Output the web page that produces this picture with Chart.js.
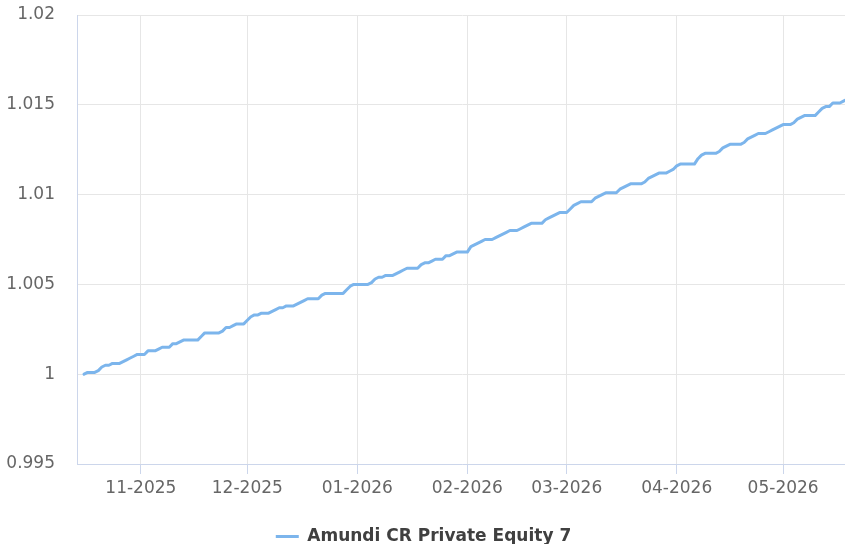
<!DOCTYPE html>
<html>
<head>
<meta charset="utf-8">
<script src="https://cdn.jsdelivr.net/npm/chart.js@4/dist/chart.umd.min.js"></script>
<style>
  html, body { margin: 0; padding: 0; background: #fff; overflow: hidden; }
  #wrap { width: 850px; height: 555px; }
</style>
</head>
<body>
<div id="wrap"><canvas id="navChart" width="850" height="555"></canvas></div>
<script>
// daily NAV, one value per calendar day starting at firstDay
const firstDay = "2025-10-16";
const axisStart = "2025-10-14";
const fundName = "Amundi CR Private Equity 7";

const navValues = [
  1.0000, 1.0001, 1.0001, 1.0001,
  1.0002, 1.0004, 1.0005, 1.0005, 1.0006, 1.0006, 1.0006,
  1.0007, 1.0008, 1.0009, 1.0010, 1.0011, 1.0011, 1.0011,
  1.0013, 1.0013, 1.0013, 1.0014, 1.0015, 1.0015, 1.0015,
  1.0017, 1.0017, 1.0018, 1.0019, 1.0019, 1.0019, 1.0019,
  1.0019, 1.0021, 1.0023, 1.0023, 1.0023, 1.0023, 1.0023,
  1.0024, 1.0026, 1.0026, 1.0027, 1.0028, 1.0028, 1.0028,
  1.0030, 1.0032, 1.0033, 1.0033, 1.0034, 1.0034, 1.0034,
  1.0035, 1.0036, 1.0037, 1.0037, 1.0038, 1.0038, 1.0038,
  1.0039, 1.0040, 1.0041, 1.0042, 1.0042, 1.0042, 1.0042,
  1.0044, 1.0045, 1.0045, 1.0045, 1.0045, 1.0045, 1.0045,
  1.0047, 1.0049, 1.0050, 1.0050, 1.0050, 1.0050, 1.0050,
  1.0051, 1.0053, 1.0054, 1.0054, 1.0055, 1.0055, 1.0055,
  1.0056, 1.0057, 1.0058, 1.0059, 1.0059, 1.0059, 1.0059,
  1.0061, 1.0062, 1.0062, 1.0063, 1.0064, 1.0064, 1.0064,
  1.0066, 1.0066, 1.0067, 1.0068, 1.0068, 1.0068, 1.0068,
  1.0071, 1.0072, 1.0073, 1.0074, 1.0075, 1.0075, 1.0075,
  1.0076, 1.0077, 1.0078, 1.0079, 1.0080, 1.0080, 1.0080,
  1.0081, 1.0082, 1.0083, 1.0084, 1.0084, 1.0084, 1.0084,
  1.0086, 1.0087, 1.0088, 1.0089, 1.0090, 1.0090, 1.0090,
  1.0092, 1.0094, 1.0095, 1.0096, 1.0096, 1.0096, 1.0096,
  1.0098, 1.0099, 1.0100, 1.0101, 1.0101, 1.0101, 1.0101,
  1.0103, 1.0104, 1.0105, 1.0106, 1.0106, 1.0106, 1.0106,
  1.0107, 1.0109, 1.0110, 1.0111, 1.0112, 1.0112, 1.0112,
  1.0113, 1.0114, 1.0116, 1.0117, 1.0117, 1.0117, 1.0117,
  1.0117, 1.0120, 1.0122, 1.0123, 1.0123, 1.0123, 1.0123,
  1.0124, 1.0126, 1.0127, 1.0128, 1.0128, 1.0128, 1.0128,
  1.0129, 1.0131, 1.0132, 1.0133, 1.0134, 1.0134, 1.0134,
  1.0135, 1.0136, 1.0137, 1.0138, 1.0139, 1.0139, 1.0139,
  1.0140, 1.0142, 1.0143, 1.0144, 1.0144, 1.0144, 1.0144,
  1.0146, 1.0148, 1.0149, 1.0149, 1.0151, 1.0151, 1.0151,
  1.0152, 1.0153
];

const monthTicks = ["2025-11-01", "2025-12-01", "2026-01-01", "2026-02-01", "2026-03-01", "2026-04-01", "2026-05-01"];
const monthLabels = ["11-2025", "12-2025", "01-2026", "02-2026", "03-2026", "04-2026", "05-2026"];

const yMin = 0.995;
const yMax = 1.02;
const yStep = 0.005;

// dates as whole day numbers so a linear axis can carry them
const dayNum = (iso) => {
  const [y, m, d] = iso.split("-").map(Number);
  return Date.UTC(y, m - 1, d) / 86400000;
};

const day0 = dayNum(firstDay);
const points = navValues.map((v, i) => ({ x: day0 + i, y: v }));

const font = "'DejaVu Sans', Verdana, sans-serif";

const ctx = document.getElementById("navChart");
const navChart = new Chart(ctx, {
  type: "line",
  data: {
    datasets: [
      {
        label: fundName,
        data: points,
        borderColor: "#7cb5ec",
        backgroundColor: "#7cb5ec",
        borderWidth: 3,
        borderJoinStyle: "round",
        borderCapStyle: "round",
        pointRadius: 0,
        pointStyle: "line",
        tension: 0,
        fill: false,
      },
    ],
  },
  options: {
    responsive: false,
    animation: false,
    layout: { padding: { top: 15, right: 3, left: 0, bottom: 0 } },
    plugins: {
      tooltip: { enabled: false },
      legend: {
        position: "bottom",
        labels: {
          usePointStyle: true,
          pointStyle: "line",
          pointStyleWidth: 23,
          color: "#404040",
          font: { family: font, size: 17, weight: "bold" },
          padding: 10,
        },
      },
    },
    scales: {
      x: {
        type: "linear",
        min: dayNum(axisStart),
        max: day0 + navValues.length - 1,
        afterBuildTicks: (scale) => {
          scale.ticks = monthTicks.map((t) => ({ value: dayNum(t) }));
        },
        afterFit: (scale) => {
          scale.height = 54;
        },
        grid: {
          color: "#e6e6e6",
          tickColor: "#ccd6eb",
          tickLength: 10,
        },
        border: { color: "#ccd6eb", width: 1 },
        ticks: {
          autoSkip: false,
          maxRotation: 0,
          padding: 4,
          color: "#666666",
          font: { family: font, size: 17 },
          callback: (value, index) => monthLabels[index],
        },
      },
      y: {
        min: yMin,
        max: yMax,
        afterFit: (scale) => {
          scale.width = 77;
          scale.paddingTop = 0;
          scale.paddingBottom = 0;
        },
        grid: {
          color: "#e6e6e6",
          drawTicks: false,
        },
        border: { color: "#ccd6eb", width: 1 },
        ticks: {
          stepSize: yStep,
          padding: 22,
          color: "#666666",
          font: { family: font, size: 17 },
          callback: (value) => String(parseFloat(value.toFixed(3))),
        },
      },
    },
  },
});
</script>
</body>
</html>
